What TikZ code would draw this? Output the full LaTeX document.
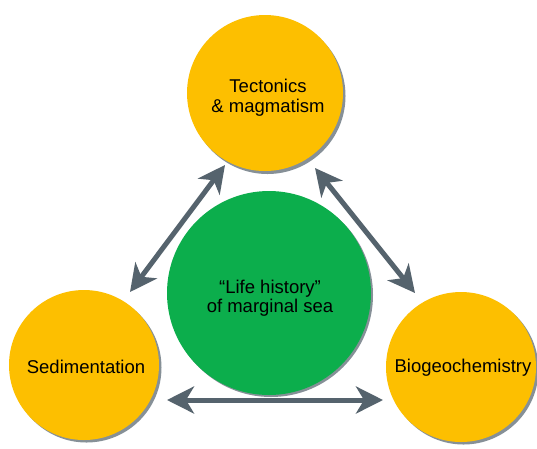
\documentclass[tikz,border=0pt]{standalone}
\usepackage{fontspec}
\setmainfont{Liberation Sans}
\usetikzlibrary{arrows.meta}
\definecolor{ybg}{HTML}{FDBF00}
\definecolor{gbg}{HTML}{0CAE4C}
\definecolor{arr}{HTML}{55636D}
\definecolor{shd}{HTML}{5E6B75}
\begin{document}
\begin{tikzpicture}[x=1pt,y=-1pt,
  bubble/.style={circle, inner sep=0pt},
  txt/.style={inner sep=0pt, align=center, text=black,
    font=\fontsize{18.5}{20}\selectfont},
  shadowc/.style={fill=shd, draw=none, opacity=0.75},
  link/.style={draw=arr, line width=5pt,
    {Stealth[length=27pt,width=27pt,inset=8pt]}-{Stealth[length=27pt,width=27pt,inset=8pt]}}]
\useasboundingbox (0,0) rectangle (537,448);
\fill[white] (0,0) rectangle (537,448);
% shadows
\fill[shadowc] (267.5,96) circle (78);
\fill[shadowc] (86.5,367.5) circle (75);
\fill[shadowc] (463.5,369.5) circle (75);
\fill[shadowc] (271,295) circle (102);
% circles
\node[bubble, fill=ybg, minimum size=156pt] (T) at (265,93) {};
\node[bubble, fill=ybg, minimum size=150pt] (S) at (84,365) {};
\node[bubble, fill=ybg, minimum size=150pt] (B) at (461,367) {};
\node[bubble, fill=gbg, minimum size=204pt] (G) at (269,293) {};
% texts
\node[txt] (Tt) at (268,98) {Tectonics\\\& magmatism};
\node[txt] (St) at (86,367) {Sedimentation};
\node[txt] (Bt) at (463,368) {Biogeochemistry};
\node[txt, font=\fontsize{18.5}{19}\selectfont] (Gt) at (270,298) {``Life history''\\of marginal sea};
% arrow ends
\coordinate (sl) at (130,292);
\coordinate (tl) at (225,165);
\coordinate (tr) at (315,168);
\coordinate (br) at (415,293);
\coordinate (sb) at (167,400);
\coordinate (bb) at (383,400);
\draw[link] (sl) -- (tl);
\draw[link] (tr) -- (br);
\draw[link] (sb) -- (bb);
\end{tikzpicture}
\end{document}
